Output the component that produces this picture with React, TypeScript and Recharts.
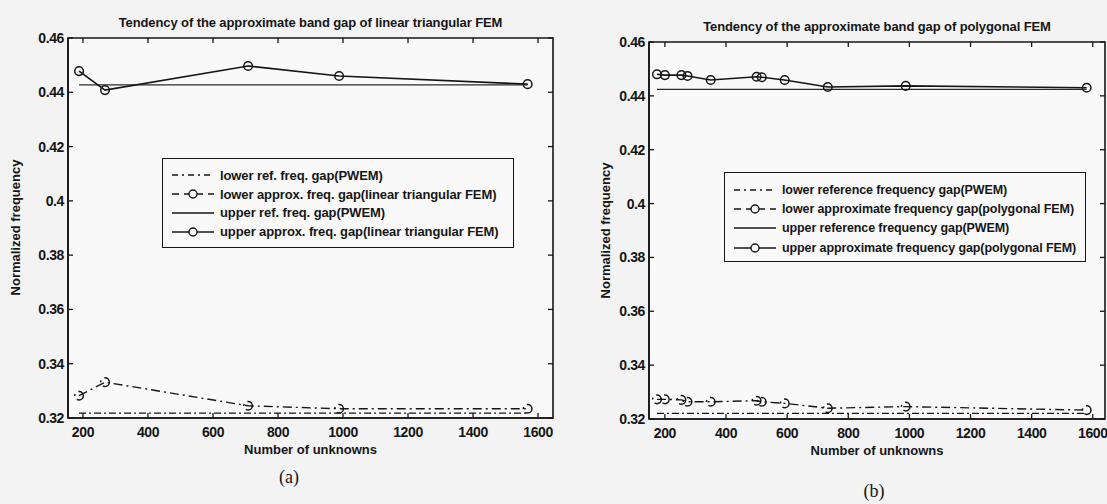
import React from 'react';
import { LineChart, Line, XAxis, YAxis, ReferenceArea, Legend } from 'recharts';

const xTicks = [200, 400, 600, 800, 1000, 1200, 1400, 1600];
const yTicks = [0.32, 0.34, 0.36, 0.38, 0.4, 0.42, 0.44, 0.46];
const yTickLabels = ['0.32', '0.34', '0.36', '0.38', '0.4', '0.42', '0.44', '0.46'];

// (a) linear triangular FEM
const unknownsA = [188, 268, 708, 988, 1568];
const lowerRefA = [0.3218, 0.3218, 0.3218, 0.3218, 0.3218];
const lowerApproxA = [0.3282, 0.3332, 0.3245, 0.3234, 0.3234];
const upperRefA = [0.4427, 0.4427, 0.4427, 0.4427, 0.4427];
const upperApproxA = [0.4478, 0.4408, 0.4497, 0.446, 0.443];
const legendA = [
  'lower ref. freq. gap(PWEM)',
  'lower approx. freq. gap(linear triangular FEM)',
  'upper ref. freq. gap(PWEM)',
  'upper approx. freq. gap(linear triangular FEM)',
];

// (b) polygonal FEM
const unknownsB = [174, 200, 254, 274, 350, 500, 517, 592, 733, 988, 1580];
const lowerRefB = [0.3221, 0.3221, 0.3221, 0.3221, 0.3221, 0.3221, 0.3221, 0.3221, 0.3221, 0.3221, 0.3221];
const lowerApproxB = [0.3273, 0.3273, 0.3271, 0.3264, 0.3264, 0.3268, 0.3264, 0.3258, 0.324, 0.3246, 0.3233];
const upperRefB = [0.4424, 0.4424, 0.4424, 0.4424, 0.4424, 0.4424, 0.4424, 0.4424, 0.4424, 0.4424, 0.4424];
const upperApproxB = [0.448, 0.4477, 0.4477, 0.4474, 0.4459, 0.4471, 0.4469, 0.4459, 0.4433, 0.4437, 0.443];
const legendB = [
  'lower reference frequency gap(PWEM)',
  'lower approximate frequency gap(polygonal FEM)',
  'upper reference frequency gap(PWEM)',
  'upper approximate frequency gap(polygonal FEM)',
];

const INK = '#161616';
const FONT = '"Liberation Sans", Arial, sans-serif';
const LOWER_REF_DASH = '7 3 2 3';
const LOWER_APPROX_DASH = '9 4 2 4';

type Box = { left: number; top: number; right: number; bottom: number };

interface PanelProps {
  width: number;
  box: Box;
  xDomain: [number, number];
  unknowns: number[];
  lowerRef: number[];
  lowerApprox: number[];
  upperRef: number[];
  upperApprox: number[];
  legend: string[];
  legendBox: { left: number; top: number; width: number; height: number; row: number; pad: number; font: number };
  title: string;
  yLabelX: number;
  caption: string;
  captionPos: { x: number; y: number };
}

function LegendSample({ kind }: { kind: number }) {
  const dash = kind === 0 ? '6 4 2 4' : kind === 1 ? '7 5' : undefined;
  return (
    <svg width={44} height={12} style={{ display: 'block', flex: 'none' }}>
      <line x1={1} x2={43} y1={6} y2={6} stroke={INK} strokeWidth={1.4} strokeDasharray={dash} />
      {(kind === 1 || kind === 3) && <circle cx={22} cy={6} r={4} fill="#f9f9f9" stroke={INK} strokeWidth={1.4} />}
    </svg>
  );
}

function Panel(p: PanelProps) {
  const { box } = p;
  const yAxisW = 50;
  const xAxisH = 40;
  const rows = p.unknowns.map((x, i) => ({
    x,
    lowerRef: p.lowerRef[i],
    lowerApprox: p.lowerApprox[i],
    upperRef: p.upperRef[i],
    upperApprox: p.upperApprox[i],
  }));
  const plotW = p.width - box.left - box.right;
  const plotTop = box.top;
  const plotBottom = 504 - box.bottom;
  const plotLeft = box.left;
  const plotRight = p.width - box.right;

  const xTick = (t: any) => (
    <g key={`xt-${t.payload.value}`}>
      <line x1={t.x} x2={t.x} y1={plotBottom} y2={plotBottom - 5} stroke={INK} strokeWidth={1.3} />
      <line x1={t.x} x2={t.x} y1={plotTop} y2={plotTop + 5} stroke={INK} strokeWidth={1.3} />
      <text x={t.x} y={plotBottom + 19} textAnchor="middle" fontFamily={FONT} fontWeight="bold" fontSize={14} letterSpacing={-0.4} fill={INK}>
        {t.payload.value}
      </text>
    </g>
  );
  const yTick = (t: any) => {
    const idx = yTicks.findIndex((v) => Math.abs(v - t.payload.value) < 1e-9);
    return (
      <g key={`yt-${t.payload.value}`}>
        <line x1={plotLeft} x2={plotLeft + 5} y1={t.y} y2={t.y} stroke={INK} strokeWidth={1.3} />
        <line x1={plotRight} x2={plotRight - 5} y1={t.y} y2={t.y} stroke={INK} strokeWidth={1.3} />
        <text x={plotLeft - 4} y={t.y + 5} textAnchor="end" fontFamily={FONT} fontWeight="bold" fontSize={14} letterSpacing={-0.4} fill={INK}>
          {yTickLabels[idx]}
        </text>
      </g>
    );
  };

  const dot = { r: 4.3, fill: 'none', stroke: INK, strokeWidth: 1.5 };

  return (
    <div style={{ position: 'relative', width: p.width, height: 504 }}>
      <LineChart
        width={p.width}
        height={504}
        data={rows}
        margin={{ top: box.top, right: box.right, bottom: box.bottom - xAxisH, left: box.left - yAxisW }}
      >
        <ReferenceArea
          x1={p.xDomain[0]}
          x2={p.xDomain[1]}
          y1={0.32}
          y2={0.46}
          fill="#f9f9f9"
          fillOpacity={1}
          stroke={INK}
          strokeWidth={1.6}
          ifOverflow="visible"
        />
        <XAxis
          type="number"
          dataKey="x"
          domain={p.xDomain}
          ticks={xTicks}
          allowDataOverflow
          height={xAxisH}
          tickLine={false}
          axisLine={{ stroke: INK, strokeWidth: 1.6 }}
          tick={xTick}
          interval={0}
        />
        <YAxis
          type="number"
          domain={[0.32, 0.46]}
          ticks={yTicks}
          allowDataOverflow
          width={yAxisW}
          tickLine={false}
          axisLine={{ stroke: INK, strokeWidth: 1.6 }}
          tick={yTick}
          interval={0}
        />
        <Legend
          layout="horizontal"
          verticalAlign="middle"
          align="center"
          wrapperStyle={{ left: p.legendBox.left, top: p.legendBox.top, width: p.legendBox.width, height: p.legendBox.height }}
          content={() => (
            <div
              style={{
                boxSizing: 'border-box',
                width: p.legendBox.width,
                height: p.legendBox.height,
                border: `1.6px solid ${INK}`,
                background: '#f9f9f9',
                padding: `${p.legendBox.pad}px 0 0 8px`,
                fontFamily: FONT,
                fontWeight: 'bold',
                fontSize: p.legendBox.font,
                letterSpacing: -0.1,
                color: INK,
              }}
            >
              {p.legend.map((label, i) => (
                <div key={label} style={{ display: 'flex', alignItems: 'center', height: p.legendBox.row, whiteSpace: 'nowrap' }}>
                  <LegendSample kind={i} />
                  <span style={{ marginLeft: 5 }}>{label}</span>
                </div>
              ))}
            </div>
          )}
        />
        <Line
          dataKey="lowerRef"
          name={p.legend[0]}
          stroke={INK}
          strokeWidth={1.4}
          strokeDasharray={LOWER_REF_DASH}
          dot={false}
          isAnimationActive={false}
        />
        <Line
          dataKey="lowerApprox"
          name={p.legend[1]}
          stroke={INK}
          strokeWidth={1.4}
          strokeDasharray={LOWER_APPROX_DASH}
          dot={dot}
          isAnimationActive={false}
        />
        <Line dataKey="upperRef" name={p.legend[2]} stroke="#2a2a2a" strokeWidth={1.3} dot={false} isAnimationActive={false} />
        <Line dataKey="upperApprox" name={p.legend[3]} stroke={INK} strokeWidth={1.6} dot={dot} isAnimationActive={false} />
      </LineChart>
      <div
        style={{
          position: 'absolute',
          left: plotLeft - 20,
          width: plotW + 40,
          top: plotTop - 23,
          textAlign: 'center',
          fontFamily: FONT,
          fontWeight: 'bold',
          fontSize: 13,
          letterSpacing: -0.1,
          color: INK,
          whiteSpace: 'nowrap',
        }}
      >
        {p.title}
      </div>
      <div
        style={{
          position: 'absolute',
          left: plotLeft,
          width: plotW,
          top: plotBottom + 24,
          textAlign: 'center',
          fontFamily: FONT,
          fontWeight: 'bold',
          fontSize: 13,
          color: INK,
        }}
      >
        Number of unknowns
      </div>
      <div
        style={{
          position: 'absolute',
          left: p.yLabelX - 90,
          top: (plotTop + plotBottom) / 2 - 8,
          width: 180,
          textAlign: 'center',
          transform: 'rotate(-90deg)',
          transformOrigin: '50% 50%',
          fontFamily: FONT,
          fontWeight: 'bold',
          fontSize: 13,
          color: INK,
          whiteSpace: 'nowrap',
        }}
      >
        Normalized frequency
      </div>
      <div
        style={{
          position: 'absolute',
          left: p.captionPos.x - 30,
          width: 60,
          top: p.captionPos.y - 11,
          textAlign: 'center',
          fontFamily: '"Liberation Serif", "Times New Roman", serif',
          fontSize: 18,
          color: INK,
        }}
      >
        {p.caption}
      </div>
    </div>
  );
}

export default function App() {
  return (
    <div style={{ position: 'absolute', left: 0, top: 0, width: 1107, height: 504, background: '#f3f3f3', display: 'flex' }}>
      <Panel
        width={575}
        box={{ left: 68, top: 38, right: 22, bottom: 86 }}
        xDomain={[154, 1646]}
        unknowns={unknownsA}
        lowerRef={lowerRefA}
        lowerApprox={lowerApproxA}
        upperRef={upperRefA}
        upperApprox={upperApproxA}
        legend={legendA}
        legendBox={{ left: 162, top: 158, width: 352, height: 90, row: 18.8, pad: 7, font: 13 }}
        title="Tendency of the approximate band gap of linear triangular FEM"
        yLabelX={15}
        caption="(a)"
        captionPos={{ x: 289, y: 478 }}
      />
      <Panel
        width={532}
        box={{ left: 74, top: 42, right: 2, bottom: 85 }}
        xDomain={[148, 1640]}
        unknowns={unknownsB}
        lowerRef={lowerRefB}
        lowerApprox={lowerApproxB}
        upperRef={upperRefB}
        upperApprox={upperApproxB}
        legend={legendB}
        legendBox={{ left: 149, top: 172, width: 362, height: 90, row: 19.3, pad: 7, font: 12.5 }}
        title="Tendency of the approximate band gap of polygonal FEM"
        yLabelX={30}
        caption="(b)"
        captionPos={{ x: 299, y: 492 }}
      />
    </div>
  );
}
